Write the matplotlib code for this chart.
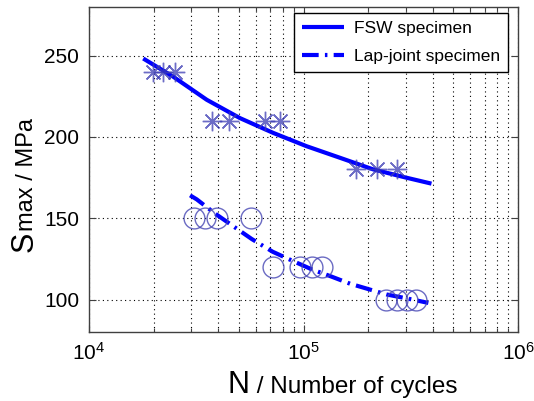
"""
S-N curve: FSW specimen vs lap-joint specimen (stress amplitude vs cycles).
"""

import matplotlib
matplotlib.use("Agg")
import matplotlib.pyplot as plt
from matplotlib.ticker import LogLocator, NullFormatter, FixedLocator

plt.rcParams['font.family'] = ['Liberation Sans', 'DejaVu Sans']
plt.rcParams['mathtext.fontset'] = 'custom'
plt.rcParams['mathtext.rm'] = 'Liberation Sans'
plt.rcParams['mathtext.it'] = 'Liberation Sans'

# test points
fsw_cycles = [1.99e4, 2.21e4, 2.52e4, 3.75e4, 4.49e4, 6.61e4, 7.77e4,
              1.76e5, 2.20e5, 2.73e5]
fsw_stress = [240, 240, 240, 210, 210, 210, 210, 180, 180, 180]

lap_cycles = [3.09e4, 3.47e4, 3.95e4, 5.69e4, 7.21e4, 9.63e4, 1.10e5,
              1.22e5, 2.43e5, 2.73e5, 3.04e5, 3.35e5]
lap_stress = [150, 150, 150, 150, 120, 120, 120, 120, 100, 100, 100, 100]

# fitted curves, points
fsw_fit_cycles = [1.79e4, 2.47e4, 3.54e4, 5.06e4, 7.23e4, 1.035e5, 1.48e5,
                  2.11e5, 3.03e5, 3.95e5]
fsw_fit_stress = [248.3, 237.1, 222.9, 211.6, 202.5, 194.3, 187.2,
                  180.1, 174.9, 171.3]

lap_fit_cycles = [2.96e4, 3.18e4, 3.87e4, 4.80e4, 5.74e4, 7.18e4, 8.72e4,
                  1.09e5, 1.35e5, 1.65e5, 2.44e5, 3.08e5, 3.82e5]
lap_fit_stress = [164.1, 161.6, 152.9, 144.3, 137.2, 129.4, 124.3,
                  118.6, 114.1, 109.7, 103.1, 100.5, 97.9]

fig = plt.figure(figsize=(5.34, 4.01), dpi=100)
ax = fig.add_axes([89 / 534, 1 - 332 / 401, 429 / 534, 325 / 401])

fsw_line, = ax.plot(fsw_fit_cycles, fsw_fit_stress, color='#0000ff', lw=3,
                    solid_capstyle='butt', solid_joinstyle='round')
lap_line, = ax.plot(lap_fit_cycles, lap_fit_stress, color='#0000ff', lw=3,
                    ls=(0, (4, 1.5, 0.6, 1.5)), dash_capstyle='butt')

ax.plot(fsw_cycles, fsw_stress, ls='none', marker=(8, 2, 0), ms=14,
        mew=1.0, color='#3c3cb4', alpha=0.75)
ax.plot(lap_cycles, lap_stress, ls='none', marker='o', ms=15, mfc='none',
        mew=1.0, color='#4646b4', alpha=0.8)

ax.set_xscale('log')
ax.set_xlim(1e4, 1e6)
ax.set_ylim(80, 280)
ax.xaxis.set_major_locator(LogLocator(base=10, numticks=5))
ax.xaxis.set_minor_locator(LogLocator(base=10, subs=range(2, 10), numticks=20))
ax.xaxis.set_minor_formatter(NullFormatter())
ax.yaxis.set_major_locator(FixedLocator([100, 150, 200, 250]))

ax.grid(True, which='major', color='black', ls=(0, (1, 3)), lw=0.8)
ax.grid(True, which='minor', axis='x', color='black', ls=(0, (1, 3)), lw=0.8)
ax.tick_params(which='both', direction='in', top=True, right=True,
               labelsize=15, pad=7, width=0.8, color='#404040')
ax.tick_params(which='major', length=5)
ax.tick_params(which='minor', length=3)
for s in ax.spines.values():
    s.set_color('#404040')
    s.set_linewidth(1.0)

ax.legend([fsw_line, lap_line], ['FSW specimen', 'Lap-joint specimen'],
          loc='upper right', bbox_to_anchor=(0.977, 0.9815), borderaxespad=0,
          fontsize=12.5, handlelength=2.4, handletextpad=0.6,
          fancybox=False, framealpha=1, edgecolor='black',
          borderpad=0.45, labelspacing=0.75)

# axis labels: large first letter, smaller rest, on one baseline
renderer = fig.canvas.get_renderer()

xl = fig.text(227 / 534, 8 / 401, 'N', fontsize=22, ha='left', va='baseline')
ext = xl.get_window_extent(renderer)
fig.text((ext.x1 + 1) / 534, 8 / 401, ' / Number of cycles', fontsize=17.5,
         ha='left', va='baseline')

yl = fig.text(33 / 534, 1 - 252 / 401, 'S', fontsize=22, rotation=90,
              rotation_mode='anchor', ha='left', va='baseline')
ext = yl.get_window_extent(renderer)
fig.text(33 / 534, (ext.y1 + 1) / 401, 'max / MPa', fontsize=17, rotation=90,
         rotation_mode='anchor', ha='left', va='baseline')

fig.savefig('out.png', dpi=100)
